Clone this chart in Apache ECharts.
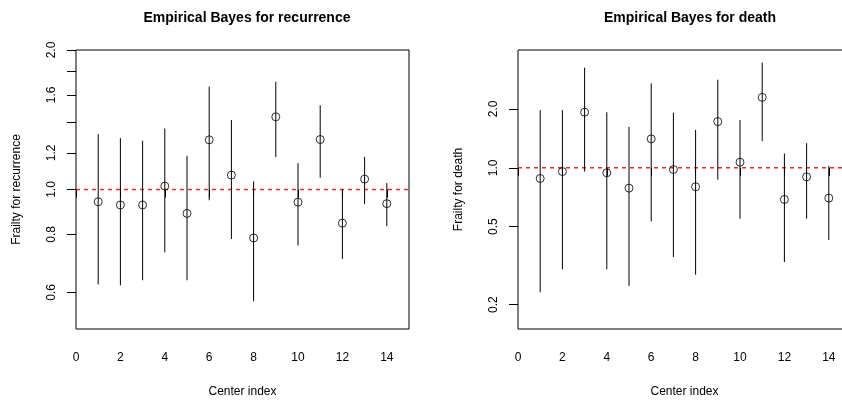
<!DOCTYPE html>
<html>
<head>
<meta charset="utf-8">
<script src="https://cdn.jsdelivr.net/npm/echarts@6/dist/echarts.min.js"></script>
<style>
  html, body { margin: 0; padding: 0; background: #fff; overflow: hidden; }
  #chart { width: 860px; height: 404px; }
</style>
</head>
<body>
<div id="chart"></div>
<script>
// Center indices
const centers = [1, 2, 3, 4, 5, 6, 7, 8, 9, 10, 11, 12, 13, 14];

// Empirical Bayes frailty estimates and interval bounds: recurrence
const recEst = [0.941, 0.926, 0.926, 1.017, 0.888, 1.280, 1.074, 0.786, 1.435, 0.939, 1.282, 0.846, 1.053, 0.932];
const recLo  = [0.624, 0.621, 0.637, 0.732, 0.637, 0.948, 0.782, 0.574, 1.175, 0.757, 1.060, 0.708, 0.931, 0.833];
const recHi  = [1.317, 1.291, 1.274, 1.354, 1.182, 1.667, 1.413, 1.041, 1.709, 1.140, 1.520, 1.000, 1.176, 1.033];

// Empirical Bayes frailty estimates and interval bounds: death
const deathEst = [0.882, 0.957, 1.924, 0.943, 0.787, 1.405, 0.980, 0.800, 1.723, 1.068, 2.290, 0.689, 0.899, 0.700];
const deathLo  = [0.231, 0.303, 0.957, 0.303, 0.249, 0.532, 0.350, 0.284, 0.869, 0.549, 1.368, 0.330, 0.549, 0.427];
const deathHi  = [1.970, 1.970, 3.250, 1.924, 1.618, 2.700, 1.915, 1.562, 2.820, 1.757, 3.450, 1.183, 1.336, 1.023];

// Axis ticks and labels
const xTicks = [0, 2, 4, 6, 8, 10, 12, 14];
const recTicks = [0.6, 0.8, 1.0, 1.2, 1.4, 1.6, 1.8, 2.0];
const recTickLabels = [0.6, 0.8, 1.0, 1.2, 1.6, 2.0];
const deathTicks = [0.2, 0.5, 1.0, 2.0];
const deathTickLabels = [0.2, 0.5, 1.0, 2.0];

// Axis ranges (frailty shown on a log scale)
const recRange = [0.5, 2.0];
const deathRange = [0.15, 4.0];
const xRange = [0, 15];
const refLevel = 1.0;

const FONT = '"Liberation Sans", Arial, Helvetica, sans-serif';
const ln = Math.log;

function fmtLog(v) {
  return Math.exp(v).toFixed(1);
}

function xAxisFor(gridIndex) {
  return {
    type: 'value', gridIndex, min: xRange[0], max: xRange[1],
    name: 'Center index', nameLocation: 'middle', nameGap: 57,
    nameTextStyle: { fontFamily: FONT, fontSize: 12, color: '#000' },
    axisLine: { show: false },
    axisTick: { show: true, length: 8, lineStyle: { color: '#000' }, customValues: xTicks },
    axisLabel: { show: true, margin: 23, fontFamily: FONT, fontSize: 12, color: '#000', customValues: xTicks },
    splitLine: { show: false }
  };
}

function yAxisFor(gridIndex, range, ticks, labels, name, gap) {
  return {
    type: 'value', gridIndex, min: ln(range[0]), max: ln(range[1]),
    name, nameLocation: 'middle', nameGap: gap, nameRotate: 90,
    nameTextStyle: { fontFamily: FONT, fontSize: 12, color: '#000' },
    axisLine: { show: false },
    axisTick: { show: true, length: 9, lineStyle: { color: '#000' }, customValues: ticks.map(ln) },
    axisLabel: { show: true, rotate: 90, margin: 18, fontFamily: FONT, fontSize: 12, color: '#000',
                 customValues: labels.map(ln), formatter: fmtLog },
    splitLine: { show: false }
  };
}

function barData(lo, hi) {
  return centers.map((c, i) => [c, ln(lo[i]), ln(hi[i])]);
}
function pointData(est) {
  return centers.map((c, i) => [c, ln(est[i])]);
}

function renderBar(params, api) {
  const p1 = api.coord([api.value(0), api.value(1)]);
  const p2 = api.coord([api.value(0), api.value(2)]);
  return {
    type: 'line',
    shape: { x1: p1[0], y1: p1[1], x2: p2[0], y2: p2[1] },
    style: { stroke: '#000', lineWidth: 1 }
  };
}

function panelSeries(idx, est, lo, hi) {
  return [
    {
      // horizontal reference line at frailty 1
      type: 'line', xAxisIndex: idx, yAxisIndex: idx,
      data: [[xRange[0], ln(refLevel)], [xRange[1], ln(refLevel)]],
      symbol: 'none', silent: true, z: 1,
      lineStyle: { color: '#ff2020', type: [4, 4], width: 1.4 }
    },
    {
      type: 'custom', xAxisIndex: idx, yAxisIndex: idx,
      renderItem: renderBar, encode: { x: 0, y: [1, 2] },
      data: barData(lo, hi), silent: true, clip: false, z: 2
    },
    {
      type: 'scatter', xAxisIndex: idx, yAxisIndex: idx,
      symbol: 'circle', symbolSize: 8,
      itemStyle: { color: 'rgba(0,0,0,0)', borderColor: '#000', borderWidth: 1 },
      data: pointData(est), silent: true, z: 3
    }
  ];
}

const chart = echarts.init(document.getElementById('chart'), null, { renderer: 'canvas' });
chart.setOption({
  animation: false,
  backgroundColor: '#fff',
  title: [
    { text: 'Empirical Bayes for recurrence', left: 242, top: 6, textAlign: 'center',
      textStyle: { fontFamily: FONT, fontSize: 14, fontWeight: 'bold', color: '#000' } },
    { text: 'Empirical Bayes for death', left: 685, top: 6, textAlign: 'center',
      textStyle: { fontFamily: FONT, fontSize: 14, fontWeight: 'bold', color: '#000' } }
  ],
  grid: [
    { left: 76, top: 50, width: 333, height: 279, show: true, borderColor: '#000', borderWidth: 1, backgroundColor: 'transparent' },
    { left: 518, top: 50, width: 333, height: 279, show: true, borderColor: '#000', borderWidth: 1, backgroundColor: 'transparent' }
  ],
  xAxis: [xAxisFor(0), xAxisFor(1)],
  yAxis: [
    yAxisFor(0, recRange, recTicks, recTickLabels, 'Frailty for recurrence', 53),
    yAxisFor(1, deathRange, deathTicks, deathTickLabels, 'Frailty for death', 53)
  ],
  series: [
    ...panelSeries(0, recEst, recLo, recHi),
    ...panelSeries(1, deathEst, deathLo, deathHi)
  ]
});
</script>
</body>
</html>
